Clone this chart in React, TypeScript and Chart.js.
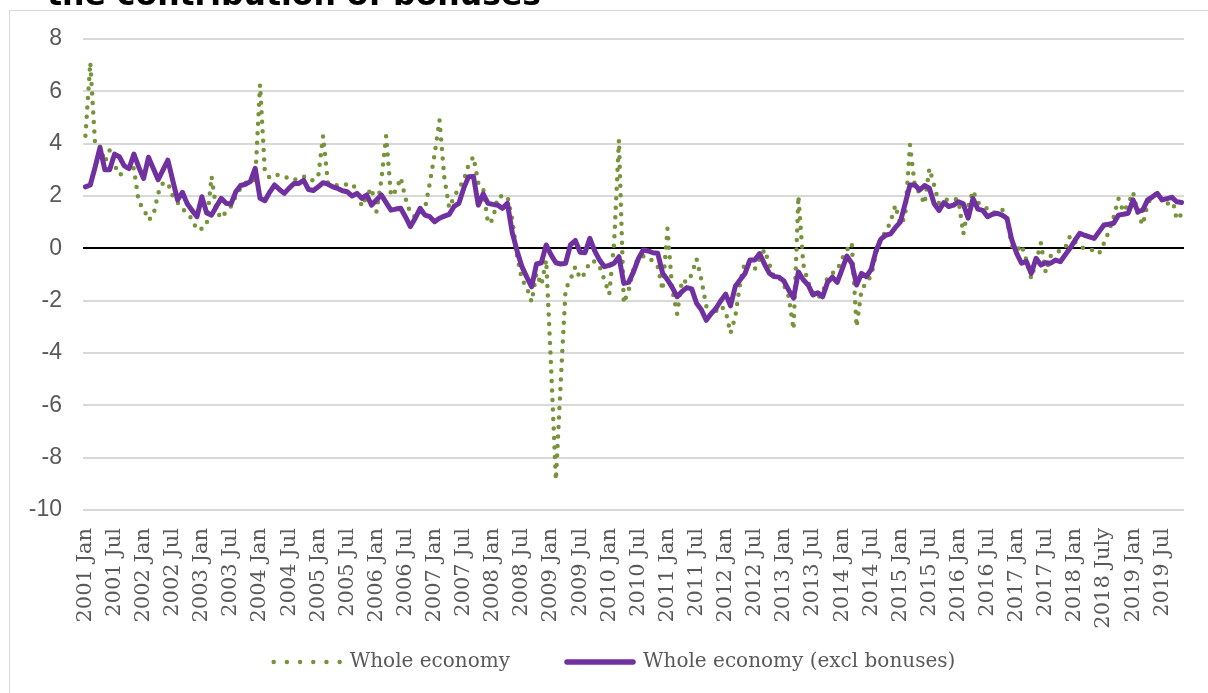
import React, { useEffect, useRef } from "react";
import { Chart, registerables } from "chart.js";

Chart.register(...registerables);

const years = [2001, 2002, 2003, 2004, 2005, 2006, 2007, 2008, 2009, 2010, 2011, 2012, 2013, 2014, 2015, 2016, 2017, 2018, 2019];
const monthNames = ["Jan", "Feb", "Mar", "Apr", "May", "Jun", "Jul", "Aug", "Sep", "Oct", "Nov", "Dec"];
const lastCategory = "2019 Nov";
const categories: string[] = [];
years.forEach((y) => monthNames.forEach((m) => categories.push(`${y} ${m}`)));
categories.splice(categories.indexOf(lastCategory) + 1);

const tickLabels = [
  "2001 Jan", "2001 Jul", "2002 Jan", "2002 Jul", "2003 Jan", "2003 Jul", "2004 Jan", "2004 Jul",
  "2005 Jan", "2005 Jul", "2006 Jan", "2006 Jul", "2007 Jan", "2007 Jul", "2008 Jan", "2008 Jul",
  "2009 Jan", "2009 Jul", "2010 Jan", "2010 Jul", "2011 Jan", "2011 Jul", "2012 Jan", "2012 Jul",
  "2013 Jan", "2013 Jul", "2014 Jan", "2014 Jul", "2015 Jan", "2015 Jul", "2016 Jan", "2016 Jul",
  "2017 Jan", "2017 Jul", "2018 Jan", "2018 July", "2019 Jan", "2019 Jul",
];

const yTicks = [-10, -8, -6, -4, -2, 0, 2, 4, 6, 8];

// Whole economy (monthly, Jan 2001 - Nov 2019)
const wholeEconomy = [
  4.3, 7.1, 3.95, 3.9, 3.3, 3.75, 3.2, 2.8, 2.9, 3.2, 3.05, 1.75,
  1.53, 1.08, 1.25, 2.1, 2.5, 2.5, 2.0, 1.75, 1.5, 1.35, 1.1, 0.7,
  0.75, 0.9, 2.75, 1.45, 1.15, 1.4, 1.6, 2.0, 2.3, 2.5, 2.6, 2.6,
  6.25, 2.9, 2.7, 2.8, 2.8, 2.75, 2.65, 2.6, 2.7, 2.75, 2.6, 2.6,
  2.75, 4.3, 2.5, 2.45, 2.4, 2.4, 2.45, 2.46, 2.2, 1.6, 2.0, 2.3,
  1.4, 2.6, 4.3, 2.0, 2.2, 2.7, 1.9, 1.35, 1.2, 1.3, 1.5, 2.5,
  3.6, 4.9, 2.7, 1.55, 1.97, 2.3, 2.6, 3.2, 3.5, 2.5, 2.3, 0.95,
  1.1, 1.97, 2.0, 2.0, 1.1, -0.3, -1.2, -1.5, -2.05, -0.95, -1.4, -0.45,
  -4.5, -8.85, -5.1, -1.55, -1.2, -0.7, -1.15, -0.95, -0.5, -0.5, -0.7, -1.2,
  -1.75, 0.2, 4.15, -2.1, -1.6, -0.8, -0.35, -0.3, -0.32, -0.5, -0.7, -1.6,
  0.75, -1.6, -2.5, -1.2, -1.3, -1.0, -0.4, -1.2, -2.2, -2.6, -2.4, -2.2,
  -2.4, -3.25, -2.6, -1.3, -0.5, -0.6, -0.8, -0.4, -0.05, -0.6, -1.1, -1.1,
  -1.4, -1.85, -3.1, 2.0, -0.6, -1.3, -1.7, -1.9, -1.7, -1.1, -0.95, -0.83,
  -0.4, -0.06, 0.2, -3.0, -1.6, -1.3, -1.05, -0.2, 0.45, 0.6, 1.02, 1.65,
  0.9, 1.2, 3.95, 2.4, 2.1, 1.7, 3.05, 2.4, 1.7, 1.8, 1.9, 1.9,
  1.85, 0.55, 1.6, 2.2, 1.75, 1.65, 1.5, 1.35, 1.4, 1.5, 1.1, 0.1,
  -0.1, 0.13, -0.45, -1.15, -0.5, 0.2, -0.93, -0.3, -0.15, -0.1, 0.0, 0.47,
  0.25, 0.06, 0.0, -0.05, -0.08, -0.2, 0.2, 0.65, 1.2, 1.9, 1.4, 1.7,
  2.15, 1.3, 0.9, 1.7, 2.0, 2.1, 1.85, 1.65, 2.0, 1.1, 1.3,
];

// Whole economy excluding bonuses
const exclBonuses = [
  2.35, 2.42, 3.1, 3.85, 3.0, 3.0, 3.6, 3.5, 3.15, 3.05, 3.6, 3.1,
  2.67, 3.48, 3.05, 2.62, 3.0, 3.37, 2.6, 1.85, 2.14, 1.7, 1.45, 1.21,
  1.97, 1.35, 1.27, 1.6, 1.91, 1.72, 1.69, 2.16, 2.4, 2.45, 2.55, 3.06,
  1.91, 1.82, 2.15, 2.42, 2.25, 2.1, 2.3, 2.48, 2.48, 2.6, 2.25, 2.21,
  2.35, 2.51, 2.45, 2.35, 2.29, 2.2, 2.16, 2.0, 2.1, 1.91, 2.04, 1.65,
  1.85, 2.04, 1.75, 1.46, 1.5, 1.53, 1.2, 0.83, 1.15, 1.53, 1.27, 1.21,
  1.02, 1.15, 1.23, 1.3, 1.6, 1.72, 2.3, 2.74, 2.75, 1.65, 2.08, 1.72,
  1.68, 1.65, 1.53, 1.72, 0.6, -0.1, -0.7, -1.1, -1.47, -0.6, -0.55, 0.13,
  -0.25, -0.55, -0.6, -0.57, 0.13, 0.3, -0.15, -0.17, 0.38, -0.1, -0.45, -0.7,
  -0.65, -0.57, -0.32, -1.34, -1.3, -0.9, -0.4, -0.06, -0.1, -0.17, -0.19, -0.95,
  -1.2, -1.5, -1.85, -1.65, -1.5, -1.55, -2.1, -2.35, -2.75, -2.5, -2.3, -2.0,
  -1.75, -2.2, -1.45, -1.2, -0.96, -0.45, -0.45, -0.2, -0.6, -0.95, -1.08, -1.1,
  -1.25, -1.6, -1.9, -0.9, -1.2, -1.4, -1.78, -1.7, -1.85, -1.3, -1.1, -1.3,
  -0.8, -0.3, -0.57, -1.4, -0.96, -1.08, -0.8, -0.1, 0.35, 0.5, 0.55, 0.8,
  1.0, 1.7, 2.42, 2.42, 2.23, 2.4, 2.3, 1.7, 1.45, 1.75, 1.6, 1.65,
  1.78, 1.7, 1.15, 1.9, 1.5, 1.45, 1.21, 1.3, 1.34, 1.27, 1.15, 0.32,
  -0.19, -0.57, -0.5, -0.96, -0.38, -0.64, -0.55, -0.57, -0.45, -0.51, -0.25, 0.0,
  0.3, 0.57, 0.5, 0.44, 0.38, 0.64, 0.89, 0.92, 0.96, 1.27, 1.3, 1.34,
  1.85, 1.4, 1.46, 1.85, 1.97, 2.1, 1.85, 1.9, 1.95, 1.78, 1.75,
];

const seriesNames = ["Whole economy", "Whole economy (excl bonuses)"];
const GREEN = "#77933C";
const PURPLE = "#7030A0";
const TEXT_GREY = "#595959";

// let tick labels overflow their (deliberately narrow) axis boxes instead of being clipped,
// and keep the plot area exactly where the layout padding puts it
const noLabelClip = (s: any) => {
  s._computeLabelArea = () => undefined;
  s.paddingLeft = 0;
  s.paddingRight = 0;
  s.paddingTop = 0;
  s.paddingBottom = 0;
};

export default function App() {
  const canvasRef = useRef<HTMLCanvasElement | null>(null);

  useEffect(() => {
    const canvas = canvasRef.current;
    if (!canvas) return;
    const chart = new Chart(canvas, {
      type: "line",
      data: {
        labels: categories,
        datasets: [
          {
            label: seriesNames[0],
            data: wholeEconomy,
            borderColor: GREEN,
            backgroundColor: GREEN,
            borderWidth: 4.5,
            borderDash: [0, 9.5],
            borderCapStyle: "round",
            borderJoinStyle: "round",
            pointRadius: 0,
            tension: 0,
            fill: false,
            order: 1,
          },
          {
            label: seriesNames[1],
            data: exclBonuses,
            borderColor: PURPLE,
            backgroundColor: PURPLE,
            borderWidth: 5,
            borderCapStyle: "round",
            borderJoinStyle: "round",
            pointRadius: 0,
            tension: 0,
            fill: false,
            order: 0,
          },
        ],
      },
      options: {
        responsive: false,
        animation: false,
        events: [],
        layout: { padding: { left: 45, right: 24, top: 39, bottom: 11 } },
        plugins: {
          tooltip: { enabled: false },
          legend: {
            position: "bottom",
            labels: {
              usePointStyle: true,
              pointStyleWidth: 66,
              padding: 57,
              color: TEXT_GREY,
              font: { family: "DejaVu Serif", size: 20 },
              generateLabels: () => [
                {
                  text: seriesNames[0],
                  fillStyle: "rgba(0,0,0,0)",
                  strokeStyle: GREEN,
                  lineWidth: 4.5,
                  lineDash: [0, 13.2],
                  lineCap: "round",
                  pointStyle: "line",
                  hidden: false,
                  datasetIndex: 0,
                  fontColor: TEXT_GREY,
                } as any,
                {
                  text: seriesNames[1],
                  fillStyle: "rgba(0,0,0,0)",
                  strokeStyle: PURPLE,
                  lineWidth: 5.5,
                  lineDash: [],
                  lineCap: "round",
                  pointStyle: "line",
                  hidden: false,
                  datasetIndex: 1,
                  fontColor: TEXT_GREY,
                } as any,
              ],
            },
          },
        },
        scales: {
          x: {
            type: "category",
            offset: true,
            grid: { display: false, drawTicks: false },
            border: { display: false },
            ticks: {
              autoSkip: false,
              maxRotation: 90,
              minRotation: 90,
              padding: 18,
              color: TEXT_GREY,
              font: { family: "DejaVu Serif", size: 21 },
              callback: (_v: any, i: number) => (i % 6 === 0 ? tickLabels[i / 6] : ""),
            },
            afterFit: (s: any) => {
              s.height = 85;
              noLabelClip(s);
            },
          },
          y: {
            min: yTicks[0],
            max: yTicks[yTicks.length - 1],
            afterBuildTicks: (s: any) => {
              s.ticks = yTicks.map((v) => ({ value: v }));
            },
            ticks: {
              padding: 21,
              color: TEXT_GREY,
              font: { family: "Liberation Sans", size: 23 },
            },
            grid: {
              drawTicks: false,
              lineWidth: 2,
              color: (ctx: any) => (ctx.tick && ctx.tick.value === 0 ? "#000000" : "#d9d9d9"),
            },
            border: { display: false },
            afterFit: (s: any) => {
              s.width = 38;
              noLabelClip(s);
            },
          },
        },
      } as any,
    });
    return () => chart.destroy();
  }, []);

  return (
    <div>
      <div
        style={{
          position: "fixed",
          left: 9,
          top: 10,
          width: 1300,
          height: 800,
          border: "1.5px solid #d9d9d9",
          boxSizing: "border-box",
          background: "#ffffff",
        }}
      />
      <div
        style={{
          position: "fixed",
          left: 47,
          top: -21,
          fontFamily: "'DejaVu Sans', sans-serif",
          fontWeight: "bold",
          fontSize: 31.5,
          lineHeight: "31px",
          whiteSpace: "nowrap",
          color: "#000000",
        }}
      >
        the contribution of bonuses
      </div>
      <canvas
        ref={canvasRef}
        width={1208}
        height={693}
        style={{ position: "fixed", left: 0, top: 0, width: 1208, height: 693 }}
      />
    </div>
  );
}
